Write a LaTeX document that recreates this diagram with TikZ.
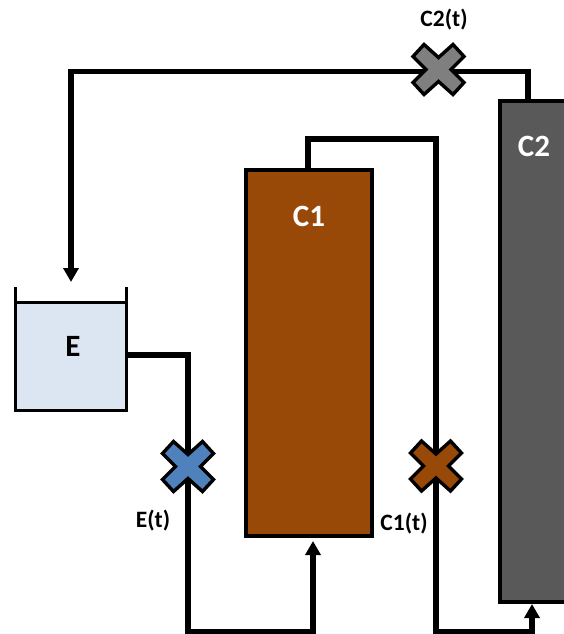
\documentclass[tikz,border=0pt]{standalone}
\usepackage{fontspec}
\setmainfont{Carlito}
\usetikzlibrary{arrows.meta}
\definecolor{brownC}{HTML}{984807}
\definecolor{greyC}{HTML}{595959}
\definecolor{greyV}{HTML}{7F7F7F}
\definecolor{blueV}{HTML}{4F81BD}
\definecolor{tankE}{HTML}{DCE6F2}
\tikzset{
  column/.style={draw=black,line width=3.2pt,minimum width=#1,inner sep=0pt,outer sep=0pt,anchor=north west},
  pipe/.style={draw=black,line width=5.2pt,line join=miter},
  pipearrow/.style={pipe,-{Triangle[width=15pt,length=14pt,sep=0pt]}},
  biglabel/.style={font=\fontsize{31}{31}\bfseries\selectfont,inner sep=0pt},
  smalllabel/.style={font=\fontsize{23.5}{24}\bfseries\selectfont,inner sep=0pt},
  valveline/.style={draw=black,line width=3.4pt,line join=miter},
}
\newcommand{\valve}[2]{%
  \path[valveline,fill=#2,shift={(#1)}] (-14.5,-25) -- (0,-12) -- (14.5,-25) -- (25.5,-13) -- (12.5,0)
    -- (25.5,13) -- (14.5,25) -- (0,12) -- (-14.5,25) -- (-25.5,13) -- (-12.5,0) -- (-25.5,-13) -- cycle;}
\begin{document}
\begin{tikzpicture}[x=1pt,y=-1pt]
\useasboundingbox (0,0) rectangle (564,634);
\clip (0,0) rectangle (564,634);
% tank
\fill[tankE] (15,303) rectangle (126,410);
\node[inner sep=0pt,minimum size=0pt] (tankR) at (126,355) {};
\draw[black,line width=3pt,line join=miter] (15,287) -- (15,410) -- (126,410) -- (126,287);
\draw[black,line width=3pt] (15,302) -- (126,302);
% columns
\node[column=126pt,minimum height=366pt,fill=brownC] (c1) at (246,170) {};
\node[column=100pt,minimum height=501pt,fill=greyC] (c2) at (500,101) {};
% junction coordinates
\coordinate (c1top) at (308,170);
\coordinate (c1in) at (313,541);
\coordinate (c2top) at (528,102);
\coordinate (c2in) at (532,604);
\coordinate (tankin) at (71,282);
\coordinate (vE) at (188,466.5);
\coordinate (vC) at (436,466);
\coordinate (vT) at (438.5,69.5);
% pipes
\draw[pipe] (c2top) -- (528,71.5) -- (vT |- 0,71.5);
\draw[pipearrow] (vT |- 0,71.5) -- (71,71.5) -- (tankin);
\draw[pipe] (tankR.center) -- (188,355) -- (vE);
\draw[pipearrow] (vE) -- (188,632) -- (313,632) -- (c1in);
\draw[pipe] (c1top) -- (308,139) -- (436,139) -- (vC);
\draw[pipearrow] (vC) -- (436,632) -- (532,632) -- (c2in);
% valves
\valve{vT}{greyV}
\valve{vE}{blueV}
\valve{vC}{brownC}
% labels
\node[biglabel,text=white] (lc1) at (309,216) {C1};
\node[biglabel,text=white] (lc2) at (534,146) {C2};
\node[biglabel,text=black] (le) at (73,346) {E};
\node[smalllabel] (lc2t) at (444,20) {C2(t)};
\node[smalllabel] (let) at (153,521) {E(t)};
\node[smalllabel] (lc1t) at (404,524) {C1(t)};
\end{tikzpicture}
\end{document}
